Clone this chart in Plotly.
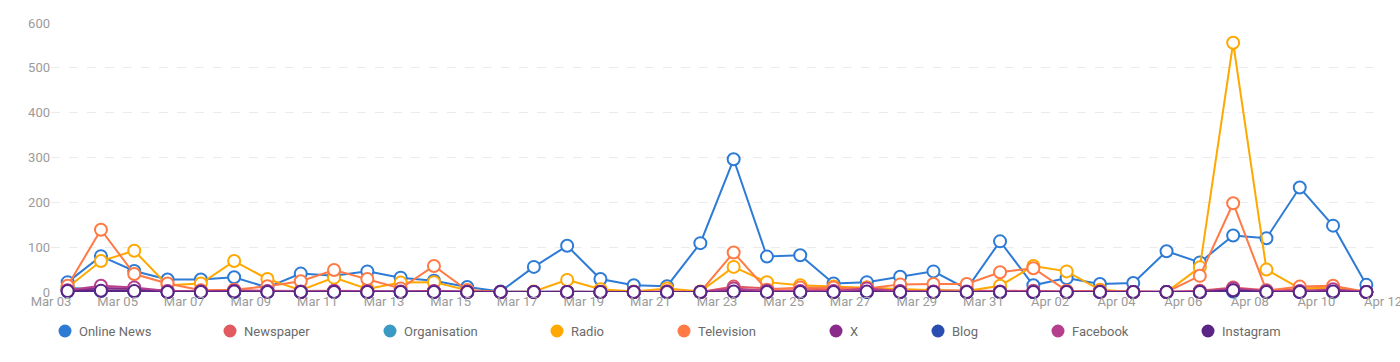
import datetime as dt
import plotly.graph_objects as go

# ---------------- data ----------------
start = dt.datetime(2025, 3, 3, 12)
dates = [start + dt.timedelta(days=i) for i in range(40)]

series_names = ["Online News", "Newspaper", "Organisation", "Radio", "Television",
                "X", "Blog", "Facebook", "Instagram"]
series_colors = ["#2E7BD6", "#E05A5F", "#3A9AC4", "#FFA800", "#FF7A45",
                 "#8A2A8A", "#2A4DB0", "#B53F8C", "#5B2586"]

online_news = [22, 80, 47, 28, 28, 33, 10, 41, 36, 46, 32, 25, 11, 1, 56, 103, 29, 15, 13, 109,
               296, 79, 82, 19, 22, 34, 46, 7, 113, 15, 31, 18, 20, 91, 66, 126, 120, 233, 148, 16]
newspaper = [5, 8, 6, 3, 2, 4, 3, 2, 3, 2, 1, 3, 1, 0, 0, 1, 0, 0, 1, 0,
             12, 8, 7, 6, 10, 5, 4, 3, 2, 3, 1, 1, 0, 0, 3, 10, 4, 6, 11, 0]
organisation = [10, 4, 3, 1, 1, 1, 1, 0, 1, 0, 0, 1, 0, 0, 0, 0, 0, 0, 0, 0,
                2, 1, 0, 0, 1, 0, 0, 0, 0, 0, 0, 0, 0, 0, 0, 2, 0, 0, 1, 0]
radio = [10, 69, 92, 15, 19, 69, 29, 4, 32, 7, 21, 22, 4, 0, 1, 27, 6, 1, 8, 1,
         56, 22, 15, 12, 10, 7, 4, 2, 14, 58, 46, 5, 0, 0, 55, 556, 50, 8, 9, 0]
television = [14, 139, 40, 19, 4, 5, 13, 24, 49, 29, 8, 58, 4, 0, 0, 0, 0, 0, 2, 0,
              88, 5, 10, 10, 8, 17, 18, 18, 44, 53, 3, 2, 0, 0, 36, 198, 3, 12, 14, 0]
x_social = [3, 9, 7, 1, 1, 2, 1, 0, 1, 1, 0, 1, 0, 0, 0, 0, 0, 0, 0, 0,
            4, 2, 1, 1, 4, 1, 0, 0, 0, 0, 0, 0, 0, 0, 0, 6, 1, 1, 3, 0]
blog = [1, 2, 1, 0, 0, 0, 0, 0, 0, 0, 0, 0, 0, 0, 0, 0, 0, 0, 0, 0,
        1, 0, 0, 0, 0, 0, 0, 0, 0, 0, 0, 0, 0, 0, 0, 1, 0, 0, 0, 0]
facebook = [4, 14, 10, 2, 1, 3, 2, 1, 2, 1, 1, 2, 0, 0, 0, 0, 0, 0, 0, 0,
            8, 3, 2, 2, 8, 2, 1, 1, 1, 1, 0, 0, 0, 0, 1, 8, 2, 2, 6, 0]
instagram = [2, 3, 2, 0, 0, 1, 0, 0, 0, 0, 0, 0, 0, 0, 0, 0, 0, 0, 0, 0,
             1, 0, 0, 0, 1, 0, 0, 0, 0, 0, 0, 0, 0, 0, 0, 4, 0, 0, 1, 0]

series_values = [online_news, newspaper, organisation, radio, television,
                 x_social, blog, facebook, instagram]

tick_dates = [dt.datetime(2025, 3, 3) + dt.timedelta(days=2 * k) for k in range(21)]
tick_labels = [d.strftime("%b %d") for d in tick_dates]
y_ticks = [0, 100, 200, 300, 400, 500, 600]

# legend layout (pixel centres of the legend dots, measured from reference)
legend_dot_px = [65, 230, 390, 557, 684, 836, 938, 1058, 1208]

# ---------------- figure ----------------
W, H = 1400, 362
ML, MR, MT, MB = 51, 17, 23, 70
PW, PH = W - ML - MR, H - MT - MB

fig = go.Figure()
for name, color, vals in zip(series_names, series_colors, series_values):
    fig.add_trace(go.Scatter(
        x=dates, y=vals, name=name, mode="lines+markers",
        line=dict(color=color, width=2),
        marker=dict(size=12, color="white", line=dict(color=color, width=2)),
        cliponaxis=False, showlegend=False,
    ))

font_family = "Roboto, 'Liberation Sans', Arial, sans-serif"

shapes = []
annotations = []
legend_y_px = 331
ly = (H - MB - legend_y_px) / PH
for name, color, px in zip(series_names, series_colors, legend_dot_px):
    lx = (px - ML) / PW
    shapes.append(dict(type="circle", xref="paper", yref="paper",
                       xsizemode="pixel", ysizemode="pixel",
                       xanchor=lx, yanchor=ly, x0=-6.5, x1=6.5, y0=-6.5, y1=6.5,
                       fillcolor=color, line=dict(width=0)))
    annotations.append(dict(text=name, xref="paper", yref="paper",
                            x=(px + 12 - ML) / PW, y=ly, xanchor="left", yanchor="middle",
                            showarrow=False,
                            font=dict(size=13, color="#6b6b6b", family=font_family)))

fig.update_layout(
    width=W, height=H,
    margin=dict(l=ML, r=MR, t=MT, b=MB, pad=0, autoexpand=False),
    plot_bgcolor="white", paper_bgcolor="white",
    font=dict(family=font_family, size=12, color="#9b9b9b"),
    showlegend=False,
    shapes=shapes, annotations=annotations,
    xaxis=dict(
        range=[dt.datetime(2025, 3, 3), dt.datetime(2025, 4, 12)],
        tickvals=tick_dates, ticktext=tick_labels,
        showgrid=False, zeroline=False, showline=False, ticks="",
        automargin=False, ticklabeloverflow="allow",
        tickfont=dict(size=13, color="#9b9b9b"),
    ),
    yaxis=dict(
        range=[0, 600], tickvals=y_ticks,
        showgrid=True, gridcolor="#ebebeb", griddash="dash", gridwidth=1,
        zeroline=False, showline=False, ticks="",
        automargin=False,
        tickfont=dict(size=13, color="#9b9b9b"),
    ),
)

fig.write_html("out.html", config={"displayModeBar": False},
               post_script="document.body.style.margin='0';document.body.style.overflow='hidden';")
